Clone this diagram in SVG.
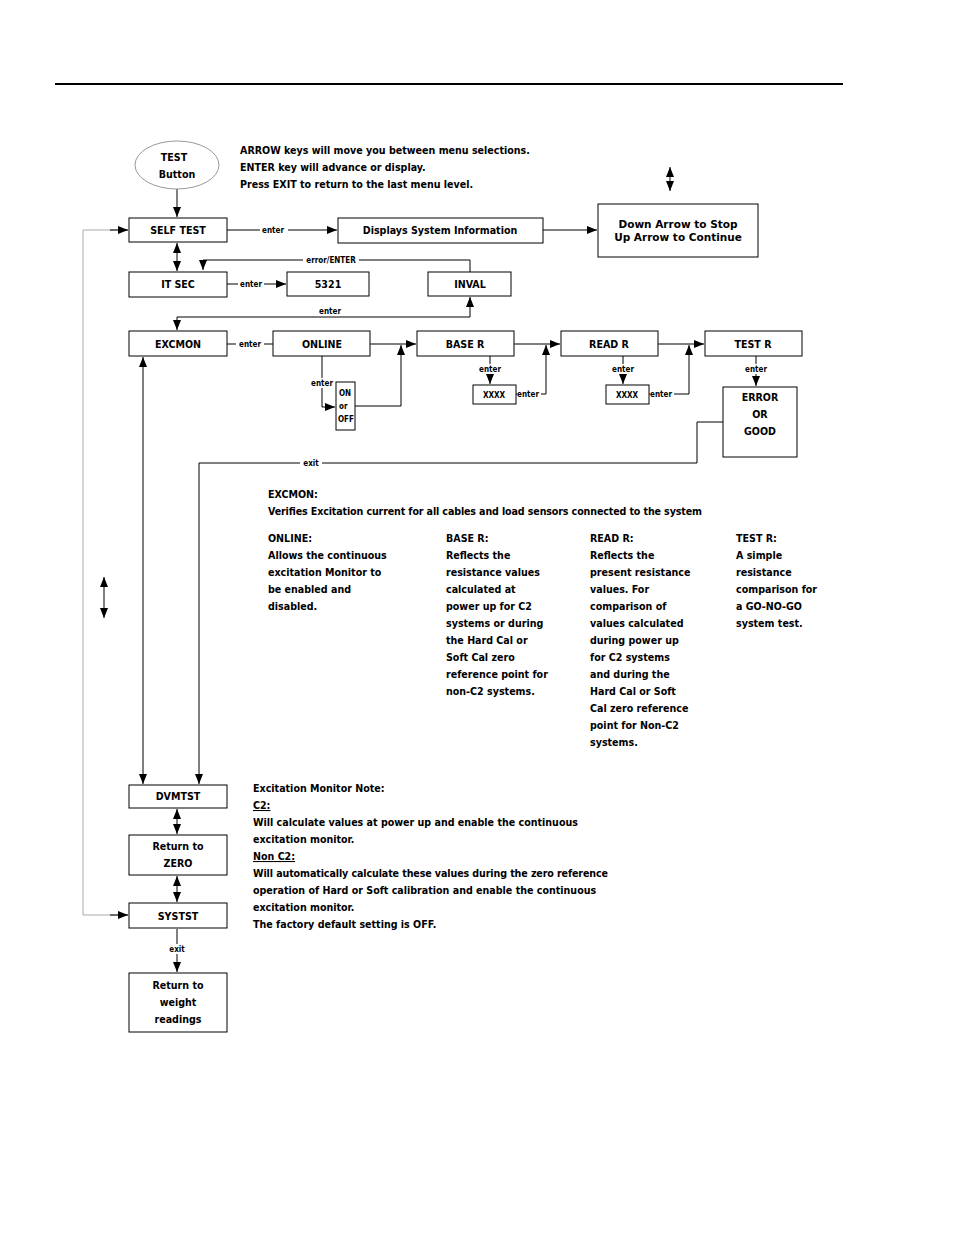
<svg xmlns="http://www.w3.org/2000/svg" width="954" height="1235" viewBox="0 0 954 1235">
<style>
text{font-family:"DejaVu Sans Condensed","Liberation Sans",sans-serif;font-weight:bold;font-size:10.6px;fill:#000}
.c{text-anchor:middle}
.s{font-size:8px}
.b{fill:#fff;stroke:#000;stroke-width:1}
.l{fill:none;stroke:#000;stroke-width:1}
.g{fill:none;stroke:#aaa;stroke-width:1}
.w{font-family:"DejaVu Sans","Liberation Sans",sans-serif;font-size:10.5px}
</style>
<defs>
<marker id="a" viewBox="0 0 10 10" refX="10" refY="5" markerWidth="10" markerHeight="10" markerUnits="userSpaceOnUse" orient="auto-start-reverse"><path d="M0,1 L10,5 L0,9 z" fill="#000"/></marker>
</defs>
<rect width="954" height="1235" fill="#fff"/>
<line x1="55" y1="84" x2="843" y2="84" stroke="#000" stroke-width="2"/>
<text x="240" y="154">ARROW keys will move you between menu selections.</text>
<text x="240" y="171">ENTER key will advance or display.</text>
<text x="240" y="188">Press EXIT to return to the last menu level.</text>
<g id="connectors">
<line class="l" x1="177" y1="189" x2="177" y2="217" marker-end="url(#a)"/>
<line class="l" x1="670" y1="167" x2="670" y2="191" marker-start="url(#a)" marker-end="url(#a)"/>
<line class="l" x1="227" y1="230" x2="337" y2="230" marker-end="url(#a)"/>
<line class="l" x1="543" y1="230" x2="597" y2="230" marker-end="url(#a)"/>
<line class="l" x1="177" y1="243" x2="177" y2="271" marker-start="url(#a)" marker-end="url(#a)"/>
<polyline class="l" points="470,272 470,260 203,260 203,270" marker-end="url(#a)"/>
<line class="l" x1="227" y1="284" x2="286" y2="284" marker-end="url(#a)"/>
<polyline class="l" points="177,317 470,317 470,297" marker-end="url(#a)"/>
<line class="l" x1="177" y1="317" x2="177" y2="330" marker-end="url(#a)"/>
<line class="l" x1="227" y1="344" x2="273" y2="344"/>
<line class="l" x1="370" y1="344" x2="416" y2="344" marker-end="url(#a)"/>
<polyline class="l" points="322,356 322,407 335,407" marker-end="url(#a)"/>
<polyline class="l" points="355,406 401,406 401,345" marker-end="url(#a)"/>
<line class="l" x1="514" y1="344" x2="560" y2="344" marker-end="url(#a)"/>
<line class="l" x1="490" y1="356" x2="490" y2="384" marker-end="url(#a)"/>
<polyline class="l" points="516,394 546,394 546,345" marker-end="url(#a)"/>
<line class="l" x1="658" y1="344" x2="704" y2="344" marker-end="url(#a)"/>
<line class="l" x1="623" y1="356" x2="623" y2="384" marker-end="url(#a)"/>
<polyline class="l" points="649,394 689,394 689,345" marker-end="url(#a)"/>
<line class="l" x1="756" y1="356" x2="756" y2="386" marker-end="url(#a)"/>
<polyline class="l" points="723,422 697,422 697,463 199,463 199,784" marker-end="url(#a)"/>
<line class="l" x1="143" y1="357" x2="143" y2="784" marker-start="url(#a)" marker-end="url(#a)"/>
<polyline class="g" points="128,230 83,230 83,915 128,915"/>
<line class="l" x1="110" y1="230" x2="128" y2="230" marker-end="url(#a)"/>
<line class="l" x1="110" y1="915" x2="128" y2="915" marker-end="url(#a)"/>
<line class="l" x1="104" y1="577" x2="104" y2="618" marker-start="url(#a)" marker-end="url(#a)"/>
<line class="l" x1="177" y1="809" x2="177" y2="834" marker-start="url(#a)" marker-end="url(#a)"/>
<line class="l" x1="177" y1="876" x2="177" y2="902" marker-start="url(#a)" marker-end="url(#a)"/>
<line class="l" x1="177" y1="929" x2="177" y2="972" marker-end="url(#a)"/>
</g>
<g id="labels">
<rect x="260" y="225" width="28" height="10" fill="#fff"/><text class="c s" x="273" y="233">enter</text>
<rect x="303" y="255" width="56" height="10" fill="#fff"/><text class="c s" x="331" y="263">error/ENTER</text>
<rect x="238" y="279" width="26" height="10" fill="#fff"/><text class="c s" x="251" y="287">enter</text>
<text class="c s" x="330" y="314">enter</text>
<rect x="236" y="339" width="28" height="10" fill="#fff"/><text class="c s" x="250" y="347">enter</text>
<rect x="310" y="378" width="24" height="10" fill="#fff"/><text class="c s" x="322" y="386">enter</text>
<rect x="478" y="364" width="24" height="10" fill="#fff"/><text class="c s" x="490" y="372">enter</text>
<rect x="517" y="389" width="24" height="10" fill="#fff"/><text class="c s" x="528" y="397">enter</text>
<rect x="611" y="364" width="24" height="10" fill="#fff"/><text class="c s" x="623" y="372">enter</text>
<rect x="650" y="389" width="24" height="10" fill="#fff"/><text class="c s" x="661" y="397">enter</text>
<rect x="744" y="364" width="24" height="10" fill="#fff"/><text class="c s" x="756" y="372">enter</text>
<rect x="300" y="458" width="22" height="10" fill="#fff"/><text class="c s" x="311" y="466">exit</text>
<rect x="168" y="944" width="18" height="10" fill="#fff"/><text class="c s" x="177" y="952">exit</text>
</g>
<g id="test"><ellipse cx="177" cy="165" rx="42" ry="24" fill="#fff" stroke="#999"/><text class="c" x="174" y="161">TEST</text><text class="c" x="177" y="178">Button</text></g>
<g id="selftest"><rect class="b" x="129" y="218" width="98" height="24"/><text class="c" x="178" y="234">SELF TEST</text></g>
<g id="sysinfo"><rect class="b" x="338" y="218" width="205" height="25"/><text class="c" x="440" y="234">Displays System Information</text></g>
<g id="updown"><rect class="b" x="598" y="204" width="160" height="53"/><text class="c w" x="678" y="228">Down Arrow to Stop</text><text class="c w" x="678" y="241">Up Arrow to Continue</text></g>
<g id="itsec"><rect class="b" x="129" y="272" width="98" height="25"/><text class="c" x="178" y="288">IT SEC</text></g>
<g id="n5321"><rect class="b" x="287" y="272" width="82" height="24"/><text class="c" x="328" y="288">5321</text></g>
<g id="inval"><rect class="b" x="428" y="272" width="83" height="24"/><text class="c" x="470" y="288">INVAL</text></g>
<g id="excmon"><rect class="b" x="129" y="331" width="98" height="25"/><text class="c" x="178" y="348">EXCMON</text></g>
<g id="online"><rect class="b" x="273" y="331" width="97" height="25"/><text class="c" x="322" y="348">ONLINE</text></g>
<g id="baser"><rect class="b" x="417" y="331" width="97" height="25"/><text class="c" x="465" y="348">BASE R</text></g>
<g id="readr"><rect class="b" x="561" y="331" width="97" height="25"/><text class="c" x="609" y="348">READ R</text></g>
<g id="testr"><rect class="b" x="705" y="331" width="97" height="25"/><text class="c" x="753" y="348">TEST R</text></g>
<g id="onoff"><rect class="b" x="336" y="382" width="19" height="48"/><text class="s" x="339" y="396">ON</text><text class="s" x="339" y="409">or</text><text class="s" x="338" y="422">OFF</text></g>
<g id="xxxx1"><rect class="b" x="473" y="385" width="43" height="19"/><text class="c s" x="494" y="398">XXXX</text></g>
<g id="xxxx2"><rect class="b" x="606" y="385" width="43" height="19"/><text class="c s" x="627" y="398">XXXX</text></g>
<g id="errgood"><rect class="b" x="723" y="387" width="74" height="70"/><text class="c" x="760" y="401">ERROR</text><text class="c" x="760" y="418">OR</text><text class="c" x="760" y="435">GOOD</text></g>
<g id="dvmtst"><rect class="b" x="129" y="785" width="98" height="23"/><text class="c" x="178" y="800">DVMTST</text></g>
<g id="retzero"><rect class="b" x="129" y="835" width="98" height="40"/><text class="c" x="178" y="850">Return to</text><text class="c" x="178" y="867">ZERO</text></g>
<g id="syststl"><rect class="b" x="129" y="903" width="98" height="25"/><text class="c" x="178" y="920">SYSTST</text></g>
<g id="retweight"><rect class="b" x="129" y="973" width="98" height="59"/><text class="c" x="178" y="989">Return to</text><text class="c" x="178" y="1006">weight</text><text class="c" x="178" y="1023">readings</text></g>
<g id="notes">
<text x="268" y="498">EXCMON:</text>
<text x="268" y="515" textLength="434">Verifies Excitation current for all cables and load sensors connected to the system</text>
<text x="268" y="542">ONLINE:</text><text x="268" y="559">Allows the continuous</text><text x="268" y="576">excitation Monitor to</text><text x="268" y="593">be enabled and</text><text x="268" y="610">disabled.</text>
<text x="446" y="542">BASE R:</text><text x="446" y="559">Reflects the</text><text x="446" y="576">resistance values</text><text x="446" y="593">calculated at</text><text x="446" y="610">power up for C2</text><text x="446" y="627">systems or during</text><text x="446" y="644">the Hard Cal or</text><text x="446" y="661">Soft Cal zero</text><text x="446" y="678">reference point for</text><text x="446" y="695">non-C2 systems.</text>
<text x="590" y="542">READ R:</text><text x="590" y="559">Reflects the</text><text x="590" y="576">present resistance</text><text x="590" y="593">values.  For</text><text x="590" y="610">comparison of</text><text x="590" y="627">values calculated</text><text x="590" y="644">during power up</text><text x="590" y="661">for C2 systems</text><text x="590" y="678">and during the</text><text x="590" y="695">Hard Cal or Soft</text><text x="590" y="712">Cal zero reference</text><text x="590" y="729">point for Non-C2</text><text x="590" y="746">systems.</text>
<text x="736" y="542">TEST R:</text><text x="736" y="559">A simple</text><text x="736" y="576">resistance</text><text x="736" y="593">comparison for</text><text x="736" y="610">a GO-NO-GO</text><text x="736" y="627">system test.</text>
<text x="253" y="792">Excitation Monitor Note:</text>
<text x="253" y="809" text-decoration="underline">C2:</text>
<text x="253" y="826">Will calculate values at power up and enable the continuous</text>
<text x="253" y="843">excitation monitor.</text>
<text x="253" y="860" text-decoration="underline">Non C2:</text>
<text x="253" y="877" textLength="355">Will automatically calculate these values during the zero reference</text>
<text x="253" y="894">operation of Hard or Soft calibration and enable the continuous</text>
<text x="253" y="911">excitation monitor.</text>
<text x="253" y="928">The factory default setting is OFF.</text>
</g>
</svg>
